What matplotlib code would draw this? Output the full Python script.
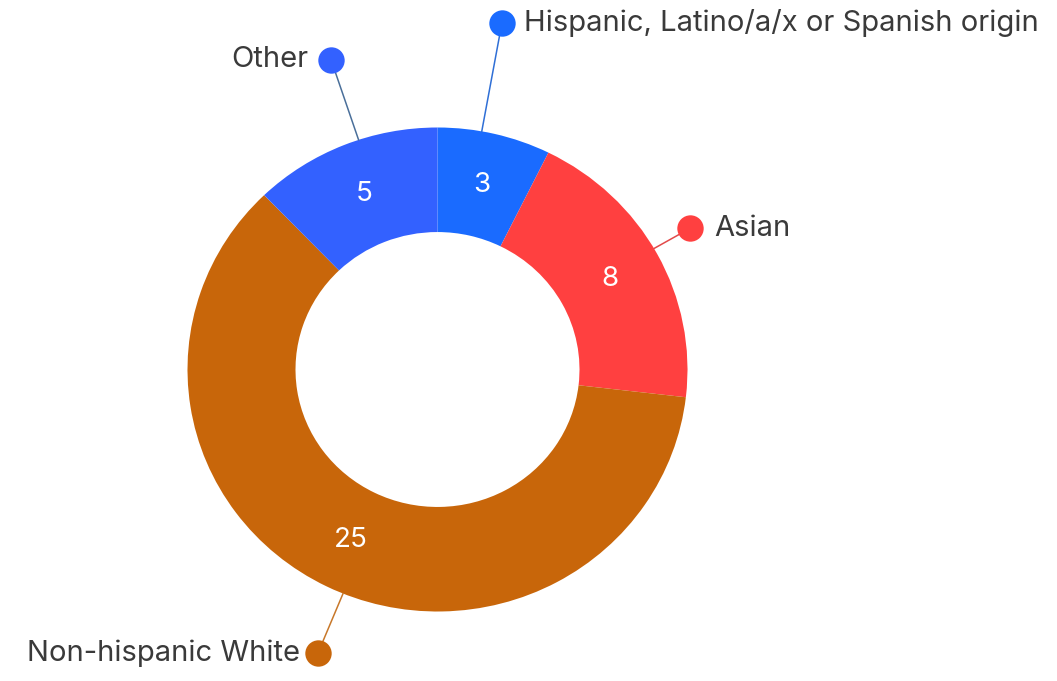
import numpy as np
import matplotlib
matplotlib.use("Agg")
import matplotlib.pyplot as plt

plt.rcParams["font.family"] = ["Inter", "DejaVu Sans"]

# ---- data ----
categories = ["Hispanic, Latino/a/x or Spanish origin", "Asian", "Non-hispanic White", "Other"]
counts = [3, 8, 25, 5]
colors = ["#1a6bff", "#ff4040", "#c8660a", "#3361ff"]
line_colors = ["#2f6fd6", "#e24a4a", "#c8782a", "#4a6f9a"]

# ---- label layout (angle clockwise from top in degrees, radius in pie units) ----
dot_angle = [10.2, 60.0, 202.2, 341.6]
dot_radius = [1.455, 1.167, 1.266, 1.35]
text_side = ["right", "right", "left", "left"]
text_gap = [16, 17, 13, 16]

W, H = 1057, 681
fig = plt.figure(figsize=(W / 100, H / 100), dpi=100)
ax = fig.add_axes([0, 0, 1, 1])

wedges, _, autotexts = ax.pie(
    counts, colors=colors, startangle=90, counterclock=False,
    radius=1.0, autopct=lambda p: f"{p * sum(counts) / 100:.0f}",
    pctdistance=0.784, wedgeprops=dict(width=0.432, linewidth=0),
    textprops=dict(color="white", fontsize=20))

# map pie units to pixels: 250 px horizontally, 242 px vertically, centre at (437.5, 369.5)
cx, cy, sx, sy = 437.5, 369.5, 250.0, 242.0
ax.set_aspect("auto")
ax.set_xlim(-cx / sx, (W - cx) / sx)
ax.set_ylim(-(H - cy) / sy, cy / sy)
ax.axis("off")

for i, name in enumerate(categories):
    a = np.deg2rad(dot_angle[i])
    x0, y0 = np.sin(a), np.cos(a)
    x1, y1 = dot_radius[i] * np.sin(a), dot_radius[i] * np.cos(a)
    ax.plot([x0, x1], [y0, y1], color=line_colors[i], lw=1.1, zorder=1)
    ax.plot(x1, y1, "o", ms=19, color=colors[i], mec="none", zorder=3)
    if text_side[i] == "right":
        ax.annotate(name, (x1, y1), xytext=(text_gap[i], 0), textcoords="offset points",
                    ha="left", va="center", fontsize=21, color="#3a3a3a")
    else:
        ax.annotate(name, (x1, y1), xytext=(-text_gap[i], 0), textcoords="offset points",
                    ha="right", va="center", fontsize=21, color="#3a3a3a")

fig.savefig("out.png", dpi=100, facecolor="white")
